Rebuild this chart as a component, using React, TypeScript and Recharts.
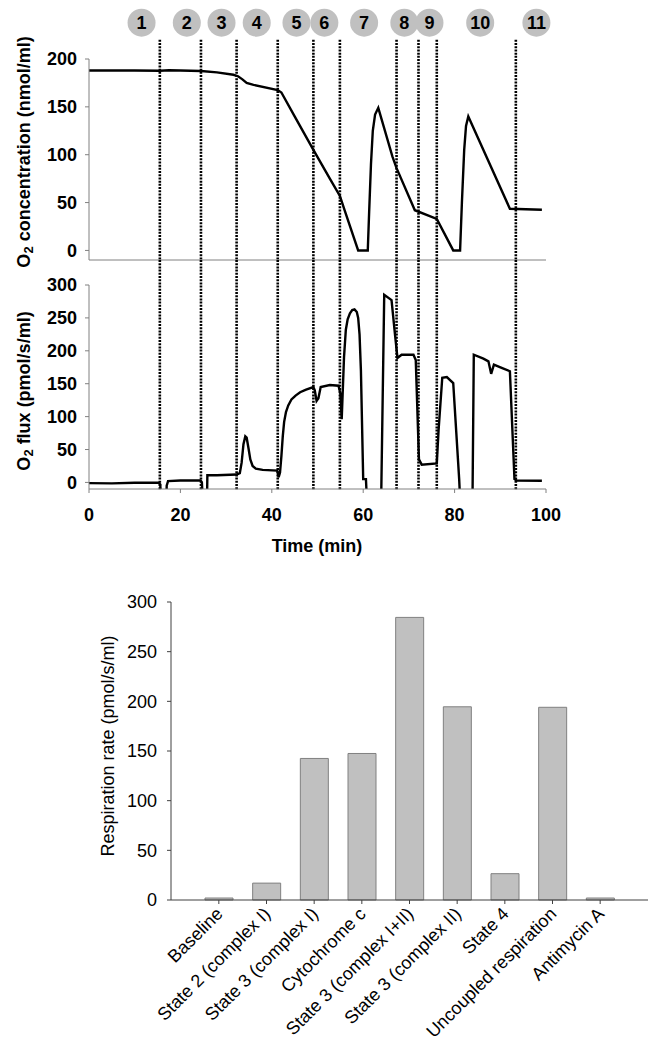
import React from "react";
import {
  LineChart,
  Line,
  BarChart,
  Bar,
  XAxis,
  YAxis,
  ReferenceLine,
  ReferenceDot,
} from "recharts";

const FONT = '"Liberation Sans", Arial, sans-serif';
const AXIS = "#808080";
const BAR_FILL = "#c0c0c0";

// O2 concentration trace (time in min, nmol/ml)
const CONC_T = [
  0, 10, 15.5, 17.5, 20, 24.5, 28, 31.6, 32.6, 33.5, 34.5, 36, 41.3, 42.1, 45, 49.1, 52.7, 54.9, 56, 58.9,
  61.0, 61.3, 61.7, 62.1, 62.6, 63.3, 66.4, 67.3, 71.3, 76.1, 79.7, 81.2, 81.6, 82.1, 82.5, 83.0, 92.1, 99.1,
];
const CONC_V = [
  188, 188, 187.8, 188.3, 188, 187.5, 186, 183.5, 182, 179, 175, 173, 167.5, 165, 140, 105, 75, 57, 41, 0,
  0, 40, 90, 125, 142, 149, 98, 86, 42, 33, 0, 0, 50, 105, 130, 140, 43.5, 42.5,
];

// O2 flux trace (time in min, pmol/s/ml); values below -10 run off the axis
const FLUX_T = [
  0, 5, 10, 15.3, 15.6, 15.8, 16.9, 17.0, 17.3, 20, 24.4, 24.7, 25.0, 25.8, 25.9, 28, 32.3, 33.0, 33.4,
  33.8, 34.2, 34.5, 34.9, 35.3, 35.8, 36.5, 38.0, 41.2, 41.5, 41.8, 42.1, 42.4, 42.7, 43.1, 43.6, 44.3,
  45.2, 46.2, 47.5, 49.1, 49.4, 49.8, 50.2, 50.7, 52.7, 54.6, 55.0, 55.3, 55.8, 56.2, 56.6, 57.1, 57.6,
  58.1, 58.6, 58.9, 59.2, 59.5, 60.0, 60.6, 60.9, 63.9, 64.6, 66.2, 67.0, 67.5, 68.4, 71.0, 71.5, 72.2,
  72.8, 76.1, 76.5, 77.3, 78.3, 79.7, 81.0, 81.3, 83.9, 84.2, 86.3, 87.4, 88.0, 88.6, 90.3, 92.1, 93.1,
  93.6, 99.1,
];
const FLUX_V = [
  -1, -1.5, -0.5, -0.5, -3, -40, -40, -5, 2, 3, 3, 0, -40, -40, 11, 11, 12, 14, 30,
  58, 70, 68, 52, 35, 25, 21, 19, 18, 8, 15, 40, 70, 92, 107, 117, 126,
  132, 137, 141, 145, 140, 124, 128, 145, 148, 147, 135, 96, 190, 232, 248, 257, 262,
  263, 259, 250, 225, 170, 5, 5, -40, -40, 285, 277, 222, 189, 194, 194, 186, 35,
  27, 29, 80, 159, 160, 151, 5, -40, -40, 194, 188, 184, 165, 179, 174, 169, 5,
  3, 2.5,
];

// substrate / inhibitor additions
const ADDITION_T = [15.5, 24.5, 32.3, 41.3, 49.1, 54.9, 67.3, 72.1, 76.1, 93.4];
const STEP_T = [11.5, 21.4, 29.0, 36.7, 45.4, 51.5, 60.2, 69.0, 74.5, 85.6, 97.9];
const STEP_LABELS = ["1", "2", "3", "4", "5", "6", "7", "8", "9", "10", "11"];

const BAR_CATEGORIES = [
  "Baseline",
  "State 2 (complex I)",
  "State 3 (complex I)",
  "Cytochrome c",
  "State 3 (complex I+II)",
  "State 3 (complex II)",
  "State 4",
  "Uncoupled respiration",
  "Antimycin A",
];
const BAR_VALUES = [2, 17, 142.5, 147.5, 284.5, 194.5, 26.5, 194, 2];

const TIME_TICKS = [0, 20, 40, 60, 80, 100];
const CONC_TICKS = [0, 50, 100, 150, 200];
const FLUX_TICKS = [0, 50, 100, 150, 200, 250, 300];
const RATE_TICKS = [0, 50, 100, 150, 200, 250, 300];

const concData = CONC_T.map((t, i) => ({ t, v: CONC_V[i] }));
const fluxData = FLUX_T.map((t, i) => ({ t, v: FLUX_V[i] }));
const barData = BAR_CATEGORIES.map((name, i) => ({ name, value: BAR_VALUES[i] }));

const boldTick = { fontSize: 18, fontWeight: "bold", fill: "#000", fontFamily: FONT };
const dotted = { stroke: "#000", strokeWidth: 2.6, strokeDasharray: "2 1.2" };

function o2Label(rest: string, cy: number) {
  return () => (
    <text
      transform={`translate(30, ${cy}) rotate(-90)`}
      textAnchor="middle"
      fontSize={18}
      fontWeight="bold"
      fontFamily={FONT}
      fill="#000"
    >
      O<tspan fontSize={13} dy={3}>2</tspan>
      <tspan dy={-3}>{rest}</tspan>
    </text>
  );
}

function CategoryTick(props: any) {
  const { x, y, payload } = props;
  const ax = x + 5;
  const ay = y + 9;
  return (
    <text
      x={ax}
      y={ay}
      transform={`rotate(-45, ${ax}, ${ay})`}
      textAnchor="end"
      fontSize={18}
      fontFamily={FONT}
      fill="#000"
    >
      {payload.value}
    </text>
  );
}

export default function App() {
  return (
    <div
      style={{
        position: "absolute",
        left: 0,
        top: 0,
        width: 659,
        height: 1050,
        background: "#fff",
        fontFamily: FONT,
      }}
    >
      <div style={{ position: "absolute", left: 0, top: 0 }}>
        <LineChart width={659} height={270} data={concData} margin={{ top: 59, right: 113, bottom: 0, left: 0 }}>
          <XAxis
            type="number"
            dataKey="t"
            domain={[0, 100]}
            ticks={TIME_TICKS}
            tick={false}
            height={10}
            tickSize={4}
            stroke={AXIS}
          />
          <YAxis
            domain={[-10, 200]}
            ticks={CONC_TICKS}
            allowDataOverflow
            width={89}
            tickSize={4}
            tickMargin={8}
            stroke={AXIS}
            tick={boldTick}
            label={{ content: o2Label(" concentration (nmol/ml)", 152) }}
          />
          {ADDITION_T.map((t) => (
            <ReferenceLine
              key={t}
              segment={[
                { x: t, y: 220 },
                { x: t, y: -10 },
              ]}
              ifOverflow="visible"
              {...dotted}
            />
          ))}
          {STEP_T.map((t, i) => (
            <ReferenceDot
              key={STEP_LABELS[i]}
              x={t}
              y={238}
              r={14}
              fill={BAR_FILL}
              stroke="none"
              ifOverflow="visible"
              label={{
                value: STEP_LABELS[i],
                position: "center",
                fill: "#000",
                fontSize: 18,
                fontWeight: "bold",
                fontFamily: FONT,
              }}
            />
          ))}
          <Line type="linear" dataKey="v" stroke="#000" strokeWidth={2.4} dot={false} isAnimationActive={false} />
        </LineChart>
      </div>

      <div style={{ position: "absolute", left: 0, top: 260 }}>
        <LineChart width={659} height={300} data={fluxData} margin={{ top: 25, right: 113, bottom: 0, left: 0 }}>
          <XAxis
            type="number"
            dataKey="t"
            domain={[0, 100]}
            ticks={TIME_TICKS}
            height={71}
            tickSize={4}
            tickMargin={15}
            stroke={AXIS}
            tick={boldTick}
            label={{
              content: () => (
                <text x={317} y={292} textAnchor="middle" fontSize={18} fontWeight="bold" fontFamily={FONT} fill="#000">
                  Time (min)
                </text>
              ),
            }}
          />
          <YAxis
            domain={[-10, 300]}
            ticks={FLUX_TICKS}
            allowDataOverflow
            width={89}
            tickSize={4}
            tickMargin={8}
            stroke={AXIS}
            tick={boldTick}
            label={{ content: o2Label(" flux (pmol/s/ml)", 131) }}
          />
          {ADDITION_T.map((t) => (
            <ReferenceLine
              key={t}
              segment={[
                { x: t, y: 338 },
                { x: t, y: -12 },
              ]}
              ifOverflow="visible"
              {...dotted}
            />
          ))}
          <Line type="linear" dataKey="v" stroke="#000" strokeWidth={2.4} dot={false} isAnimationActive={false} />
        </LineChart>
      </div>

      <div style={{ position: "absolute", left: 0, top: 560 }}>
        <BarChart width={659} height={490} data={barData} margin={{ top: 42, right: 11, bottom: 0, left: 0 }}>
          <XAxis
            dataKey="name"
            interval={0}
            height={150}
            tickSize={4}
            padding={{ left: 24, right: 24 }}
            stroke="#404040"
            tick={<CategoryTick />}
          />
          <YAxis
            domain={[0, 300]}
            ticks={RATE_TICKS}
            width={171}
            tickSize={4}
            tickMargin={10}
            stroke="#404040"
            tick={{ fontSize: 18, fill: "#000", fontFamily: FONT }}
            label={{
              content: () => (
                <text
                  transform="translate(114, 186) rotate(-90)"
                  textAnchor="middle"
                  fontSize={18}
                  fontFamily={FONT}
                  fill="#000"
                >
                  Respiration rate (pmol/s/ml)
                </text>
              ),
            }}
          />
          <Bar dataKey="value" barSize={28} fill={BAR_FILL} stroke="#808080" strokeWidth={1} isAnimationActive={false} />
        </BarChart>
      </div>
    </div>
  );
}
